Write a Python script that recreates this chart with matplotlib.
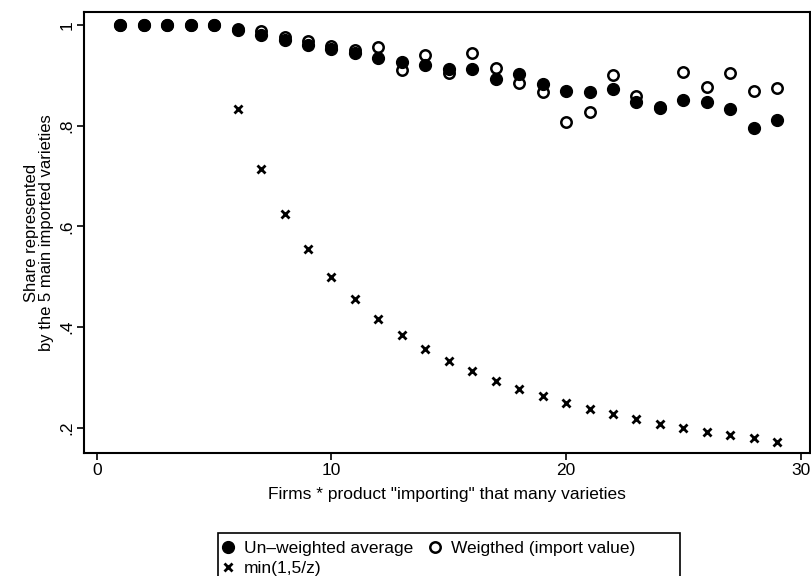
import matplotlib
matplotlib.use("Agg")
import matplotlib.pyplot as plt
from matplotlib.patches import Rectangle

plt.rcParams['font.family'] = ['Liberation Sans', 'DejaVu Sans']

# number of varieties imported by a firm * product
n_varieties = list(range(1, 30))

# share of the 5 main imported varieties, simple average
unweighted = [1.0, 1.0, 1.0, 1.0, 1.0, 0.991, 0.981, 0.971, 0.961, 0.952,
              0.944, 0.934, 0.927, 0.921, 0.912, 0.912, 0.893, 0.902, 0.882,
              0.870, 0.868, 0.873, 0.848, 0.835, 0.851, 0.848, 0.833, 0.795,
              0.811]

# same share, weighted by import value
weighted = [1.0, 1.0, 1.0, 1.0, 1.0, 0.993, 0.988, 0.977, 0.968, 0.959,
            0.950, 0.956, 0.910, 0.941, 0.905, 0.944, 0.915, 0.884, 0.868,
            0.807, 0.828, 0.901, 0.859, 0.838, 0.906, 0.878, 0.904, 0.869,
            0.875]

# benchmark min(1, 5/z), shown from z = 6
z_bench = list(range(6, 30))
bench = [0.833, 0.714, 0.625, 0.556, 0.500, 0.455, 0.417, 0.385, 0.357,
         0.333, 0.313, 0.294, 0.278, 0.263, 0.250, 0.238, 0.227, 0.217,
         0.208, 0.200, 0.192, 0.185, 0.179, 0.172]

W, H = 811, 576
fig = plt.figure(figsize=(W / 100, H / 100), dpi=100)
ax = fig.add_axes([84 / W, 1 - 453 / H, 726 / W, 441 / H])

h1, = ax.plot(n_varieties, unweighted, 'o', color='black', markersize=8.5,
              linestyle='none', zorder=3)
h2, = ax.plot(n_varieties, weighted, 'o', markerfacecolor='white',
              markeredgecolor='black', markeredgewidth=1.8, markersize=7.5,
              linestyle='none', zorder=2)
h3, = ax.plot(z_bench, bench, 'x', color='black', markersize=5.5,
              markeredgewidth=2, linestyle='none', zorder=3)

ax.set_xlim(-0.55, 30.4)
ax.set_ylim(0.15, 1.026)
ax.set_xticks([0, 10, 20, 30])
ax.set_xticklabels(['0', '10', '20', '30'])
ax.set_yticks([0.2, 0.4, 0.6, 0.8, 1.0])
ax.set_yticklabels(['.2', '.4', '.6', '.8', '1'], rotation=90, va='center')
ax.tick_params(direction='out', length=5, width=1.2, labelsize=12.5,
               colors='black', pad=2)

for s in ax.spines.values():
    s.set_linewidth(1.5)
    s.set_color('black')

ax.set_xlabel('Firms * product "importing" that many varieties',
              fontsize=12.5, labelpad=7)
ax.set_ylabel('Share represented\nby the 5 main imported varieties',
              fontsize=12, labelpad=4, linespacing=0.95)

# legend without its own frame; the box is drawn separately so it can be wider
leg = fig.legend([h1, h3, h2],
                 ['Un\u2013weighted average', 'min(1,5/z)',
                  'Weigthed (import value)'],
                 ncol=2, loc='upper left',
                 bbox_to_anchor=(221 / W, 1 - 541 / H),
                 fontsize=12.5, frameon=False,
                 handlelength=0.8, handletextpad=0.5, columnspacing=0.9,
                 borderpad=0.0, labelspacing=0.25, borderaxespad=0)
box = Rectangle((218 / W, -0.01), (680 - 218) / W, 1 - 533 / H + 0.01,
                transform=fig.transFigure, fill=False, edgecolor='black',
                linewidth=1.2)
fig.add_artist(box)

fig.savefig('out.png', dpi=100)
